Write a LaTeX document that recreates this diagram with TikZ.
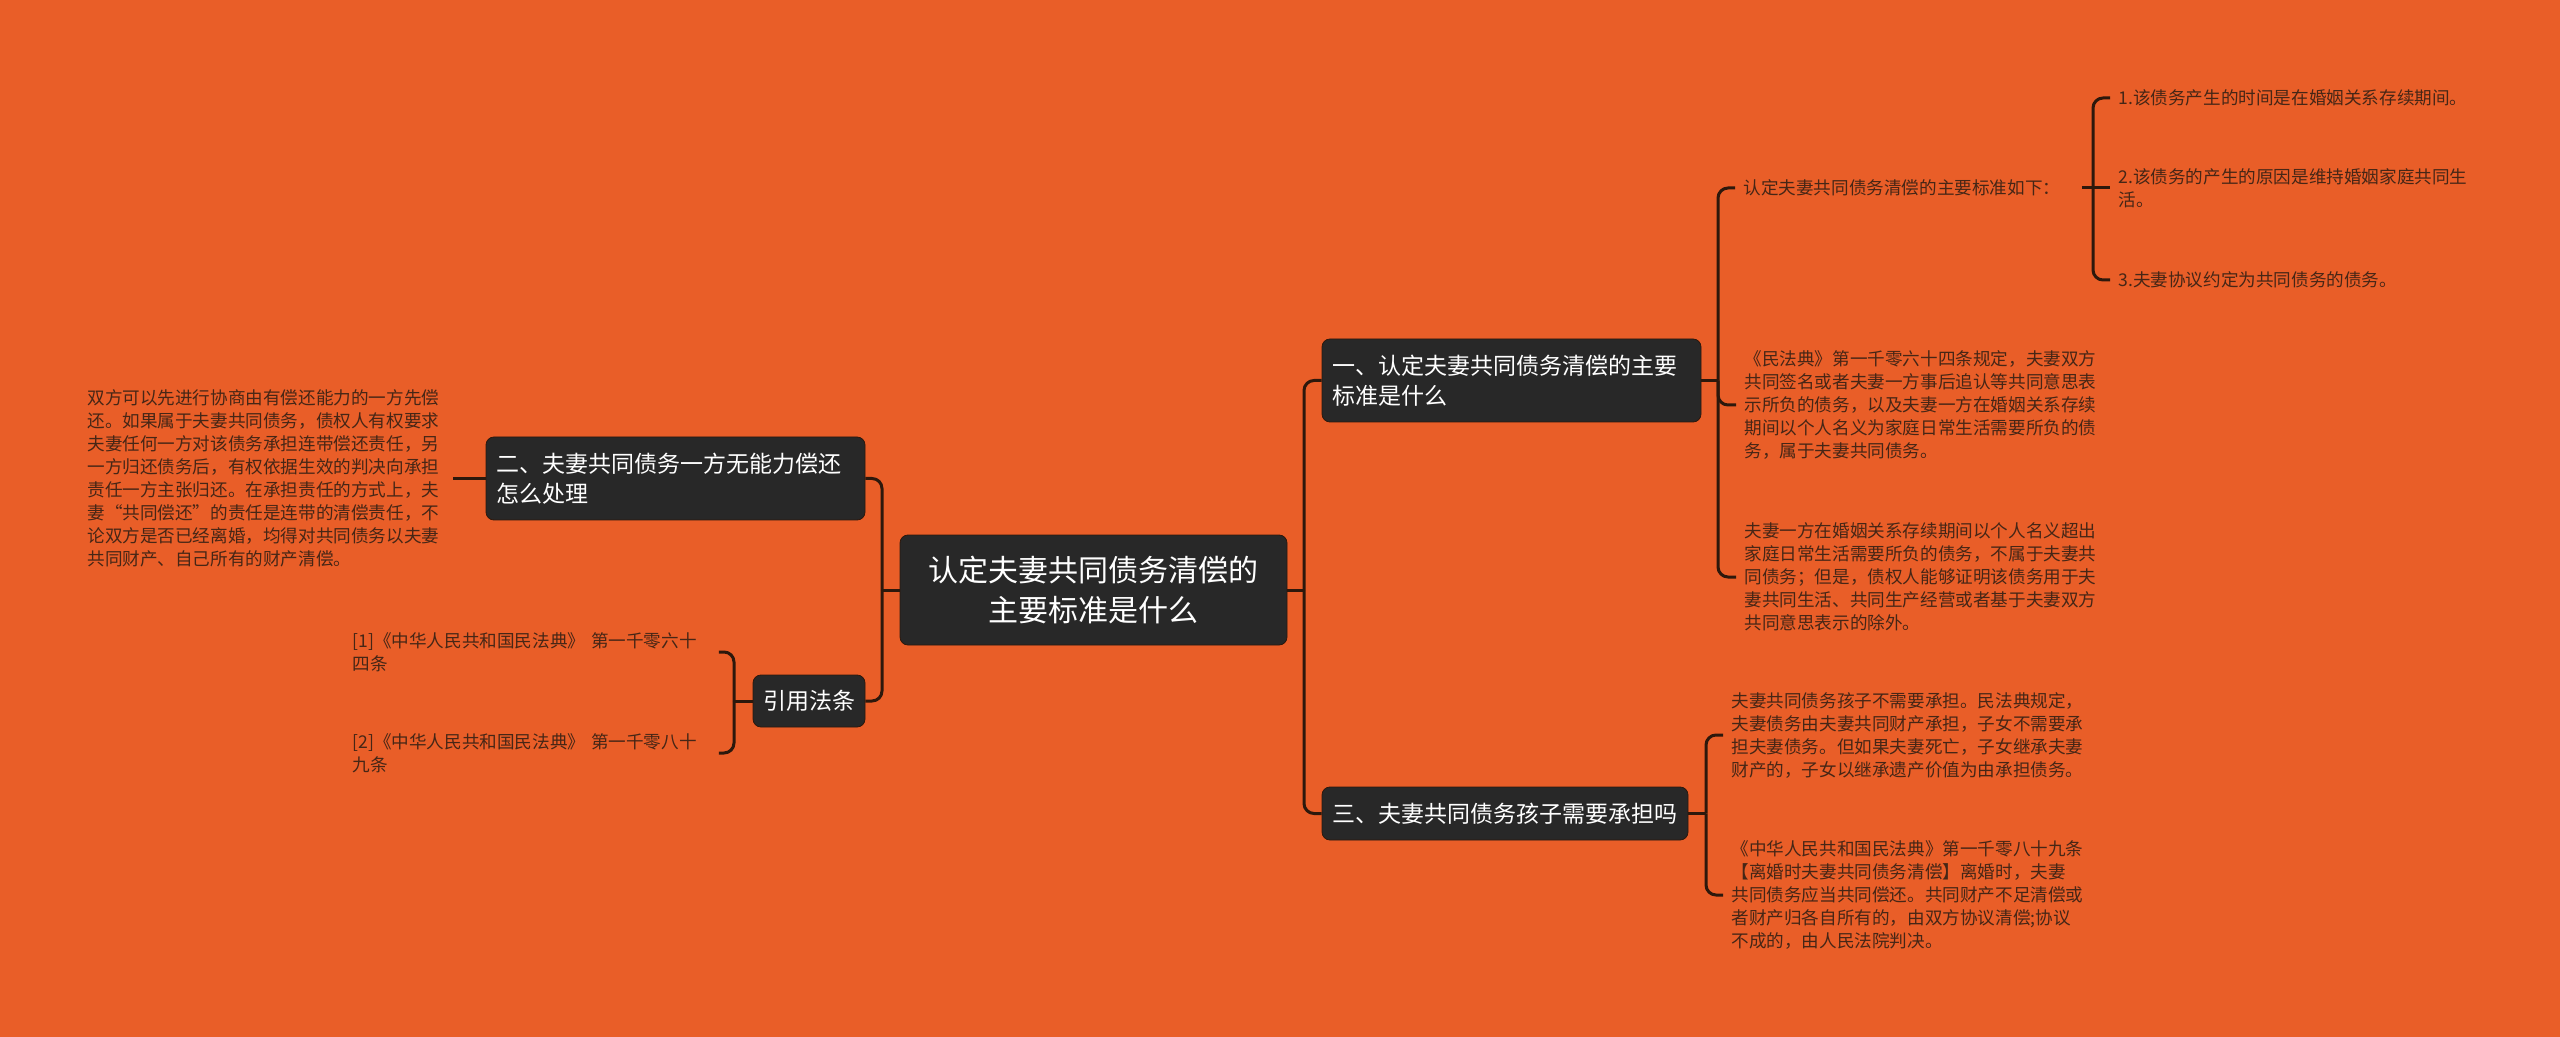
\documentclass[tikz,border=0pt]{standalone}
\usepackage{fontspec}
\setmainfont{Noto Sans CJK SC}
\usetikzlibrary{calc}
\definecolor{bg}{RGB}{233,94,40}
\definecolor{boxfill}{RGB}{40,40,40}
\definecolor{linec}{RGB}{45,24,12}
\definecolor{bodytxt}{RGB}{70,38,22}
\tikzset{
 topic/.style={fill=boxfill, draw=linec, line width=0.4pt, rounded corners=4pt, text=white, inner ysep=0pt},
 rootbox/.style={topic, font=\fontsize{15pt}{20pt}\selectfont, minimum width=193.5pt, minimum height=55pt, align=center, inner xsep=0pt},
 branch/.style={topic, font=\fontsize{11.5pt}{15pt}\selectfont, inner xsep=5pt, align=left},
 body/.style={text=bodytxt, font=\fontsize{8.8pt}{11.5pt}\selectfont, inner xsep=4pt, inner ysep=0pt, align=left, anchor=west},
 conn/.style={draw=linec, line width=1.5pt},
 hook/.style={conn, rounded corners=5pt},
}
\begin{document}
\begin{tikzpicture}[x=0.5pt,y=-0.5pt]
\fill[bg] (0,0) rectangle (2560,1037);
\useasboundingbox (0,0) rectangle (2560,1037);

% topic boxes
\node[rootbox] (root) at (1093.5,590) {认定夫妻共同债务清偿的\\主要标准是什么};
\node[branch, text width=179.5pt, minimum height=41.5pt] (b1) at (1511.5,380.5) {一、认定夫妻共同债务清偿的主要\\标准是什么};
\node[branch, text width=179.5pt, minimum height=41.5pt] (b2) at (675.5,478.5) {二、夫妻共同债务一方无能力偿还\\怎么处理};
\node[branch, text width=173pt, minimum height=26.5pt] (b3) at (1505,813.5) {三、夫妻共同债务孩子需要承担吗};
\node[branch, align=center, minimum width=56pt, minimum height=26pt, inner xsep=0pt] (cite) at (809,701) {引用法条};

% body texts
\node[body, text width=178.5pt] (t1) at (79,478.5) {双方可以先进行协商由有偿还能力的一方先偿\\还。如果属于夫妻共同债务，债权人有权要求\\夫妻任何一方对该债务承担连带偿还责任，另\\一方归还债务后，有权依据生效的判决向承担\\责任一方主张归还。在承担责任的方式上，夫\\妻“共同偿还”的责任是连带的清偿责任，不\\论双方是否已经离婚，均得对共同债务以夫妻\\共同财产、自己所有的财产清偿。};
\node[body, text width=179pt] (r1) at (344,652) {[1]《中华人民共和国民法典》 第一千零六十\\四条};
\node[body, text width=179pt] (r2) at (344,753) {[2]《中华人民共和国民法典》 第一千零八十\\九条};
\node[body, text width=165pt] (rule) at (1735,188) {认定夫妻共同债务清偿的主要标准如下：};
\node[body] (c1) at (2110,98) {1.该债务产生的时间是在婚姻关系存续期间。};
\node[body] (c2) at (2110,188) {2.该债务的产生的原因是维持婚姻家庭共同生\\活。};
\node[body] (c3) at (2110,280) {3.夫妻协议约定为共同债务的债务。};
\node[body] (t2) at (1736,405) {《民法典》第一千零六十四条规定，夫妻双方\\共同签名或者夫妻一方事后追认等共同意思表\\示所负的债务，以及夫妻一方在婚姻关系存续\\期间以个人名义为家庭日常生活需要所负的债\\务，属于夫妻共同债务。};
\node[body] (t3) at (1736,577) {夫妻一方在婚姻关系存续期间以个人名义超出\\家庭日常生活需要所负的债务，不属于夫妻共\\同债务；但是，债权人能够证明该债务用于夫\\妻共同生活、共同生产经营或者基于夫妻双方\\共同意思表示的除外。};
\node[body] (t4) at (1723,735) {夫妻共同债务孩子不需要承担。民法典规定，\\夫妻债务由夫妻共同财产承担，子女不需要承\\担夫妻债务。但如果夫妻死亡，子女继承夫妻\\财产的，子女以继承遗产价值为由承担债务。};
\node[body] (t5) at (1723,895) {《中华人民共和国民法典》第一千零八十九条\\【离婚时夫妻共同债务清偿】离婚时，夫妻\\共同债务应当共同偿还。共同财产不足清偿或\\者财产归各自所有的，由双方协议清偿;协议\\不成的，由人民法院判决。};

% junctions
\coordinate (jR) at (1304,590);
\coordinate (jL) at (882,590);
\coordinate (j1) at (1718,380.5);
\coordinate (j3) at (1706,813.5);
\coordinate (jc) at (734,701);
\coordinate (jr) at (2093,188);

% connectors
\draw[conn] (root.east) -- (jR);
\draw[hook] (jR) |- (b1.west);
\draw[hook] (jR) |- (b3.west);
\draw[conn] (root.west) -- (jL);
\draw[hook] (jL) |- (b2.east);
\draw[hook] (jL) |- (cite.east);
\draw[conn] (b2.west) -- (t1.east);
\draw[conn] (cite.west) -- (jc);
\draw[hook] (jc) |- (r1.east);
\draw[hook] (jc) |- (r2.east);
\draw[conn] (b1.east) -- (j1);
\draw[hook] (j1) |- (rule.west);
\draw[hook] (j1) |- (t2.west);
\draw[hook] (j1) |- (t3.west);
\draw[conn] (b3.east) -- (j3);
\draw[hook] (j3) |- (t4.west);
\draw[hook] (j3) |- (t5.west);
\draw[conn] (rule.east) -- (jr);
\draw[hook] (jr) |- (c1.west);
\draw[conn] (jr) -- (c2.west);
\draw[hook] (jr) |- (c3.west);
\end{tikzpicture}
\end{document}
